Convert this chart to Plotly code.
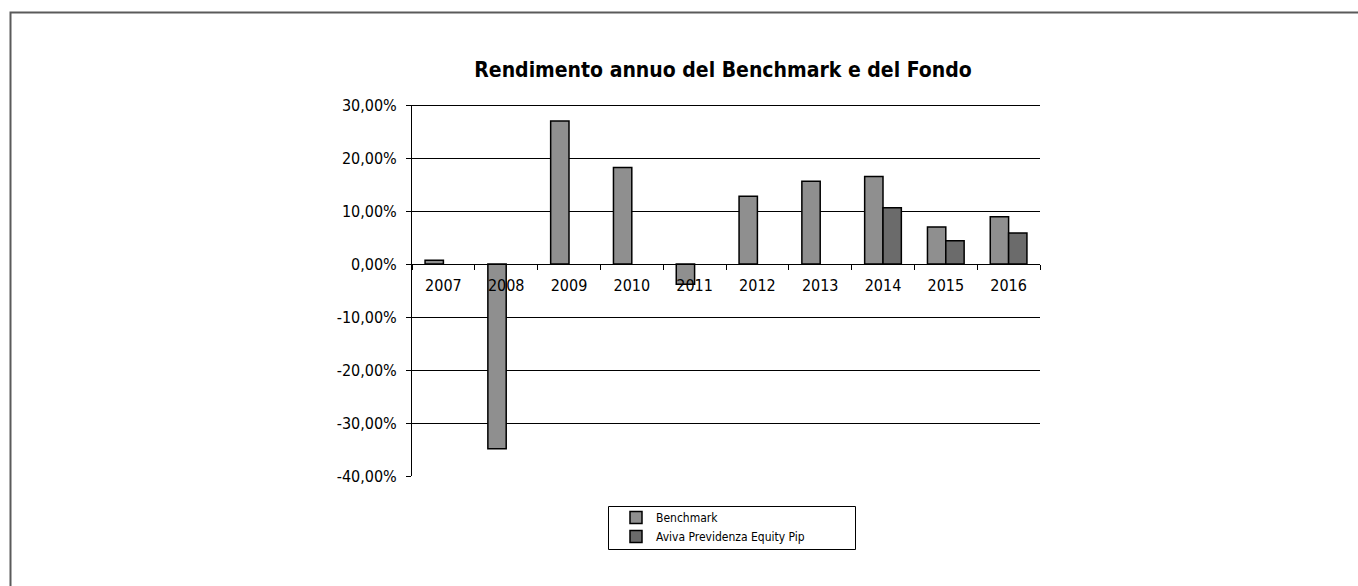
import plotly.graph_objects as go

years = ["2007", "2008", "2009", "2010", "2011", "2012", "2013", "2014", "2015", "2016"]
benchmark = [0.007, -0.3485, 0.270, 0.182, -0.038, 0.128, 0.156, 0.165, 0.070, 0.089]
fondo = [None, None, None, None, None, None, None, 0.106, 0.044, 0.0585]
y_tickvals = [-0.4, -0.3, -0.2, -0.1, 0.0, 0.1, 0.2, 0.3]
y_ticktext = ["-40,00%", "-30,00%", "-20,00%", "-10,00%", "0,00%", "10,00%", "20,00%", "30,00%"]

FONT = "DejaVu Sans Condensed, DejaVu Sans, sans-serif"

W, H = 1358, 586
L, R, T, B = 412, 1040, 105, 476

def px_to_paper_x(x):
    return (x - L) / (R - L)

def px_to_paper_y(y):
    return (B - y) / (B - T)

fig = go.Figure()
fig.add_trace(go.Bar(
    x=years, y=benchmark, name="Benchmark",
    marker=dict(color="#8f8f8f", line=dict(color="#000000", width=1.5)),
))
fig.add_trace(go.Bar(
    x=years, y=fondo, name="Aviva Previdenza Equity Pip",
    marker=dict(color="#6b6b6b", line=dict(color="#000000", width=1.5)),
))

fig.update_layout(
    width=W, height=H,
    margin=dict(l=L, r=W - R, t=T, b=H - B, pad=0),
    paper_bgcolor="white", plot_bgcolor="white",
    barmode="group", bargap=0.416, bargroupgap=0,
    font=dict(family=FONT, size=16, color="#000000"),
    title=dict(
        text="<b>Rendimento annuo del Benchmark e del Fondo</b>",
        x=px_to_paper_x(723), xref="paper", xanchor="center",
        y=1 - 70 / H, yanchor="middle",
        font=dict(family=FONT, size=21, color="#000000"),
    ),
    showlegend=True,
    legend=dict(
        x=px_to_paper_x(616), y=px_to_paper_y(503), xanchor="left", yanchor="top",
        xref="paper", yref="paper",
        bgcolor="rgba(0,0,0,0)", borderwidth=0,
        font=dict(family=FONT, size=12, color="#000000"),
        itemwidth=30, tracegroupgap=0,
    ),
    xaxis=dict(
        type="category",
        anchor="free", position=4 / 7,
        showline=True, linecolor="#000000", linewidth=1,
        ticks="outside", ticklen=5, tickcolor="#000000", tickson="boundaries",
        showgrid=False, zeroline=False,
        tickfont=dict(family=FONT, size=16, color="#000000"),
        ticklabelstandoff=7,
    ),
    yaxis=dict(
        range=[-0.4, 0.3],
        tickmode="array", tickvals=y_tickvals, ticktext=y_ticktext,
        showline=True, linecolor="#000000", linewidth=1,
        ticks="outside", ticklen=5, tickcolor="#000000",
        showgrid=True, gridcolor="#000000", gridwidth=1,
        zeroline=False,
        tickfont=dict(family=FONT, size=16, color="#000000"),
        ticklabelstandoff=6,
    ),
    shapes=[
        # top gridline (30%), which plotly omits at the range edge
        dict(type="line", xref="paper", yref="paper",
             x0=0, x1=1, y0=px_to_paper_y(105.5), y1=px_to_paper_y(105.5),
             line=dict(color="#000000", width=1), layer="above"),
        # outer chart border (extends past the right and bottom edges)
        dict(type="rect", xref="paper", yref="paper",
             x0=px_to_paper_x(10.5), x1=px_to_paper_x(1370),
             y0=px_to_paper_y(600), y1=px_to_paper_y(12.5),
             line=dict(color="#5a5a5a", width=2), fillcolor="rgba(0,0,0,0)", layer="below"),
        # legend box
        dict(type="rect", xref="paper", yref="paper",
             x0=px_to_paper_x(608.5), x1=px_to_paper_x(855.5),
             y0=px_to_paper_y(549.5), y1=px_to_paper_y(506.5),
             line=dict(color="#000000", width=1), fillcolor="rgba(0,0,0,0)"),
    ],
)

fig.write_html("out.html", config={"displayModeBar": False},
               post_script="document.body.style.margin='0px';")
